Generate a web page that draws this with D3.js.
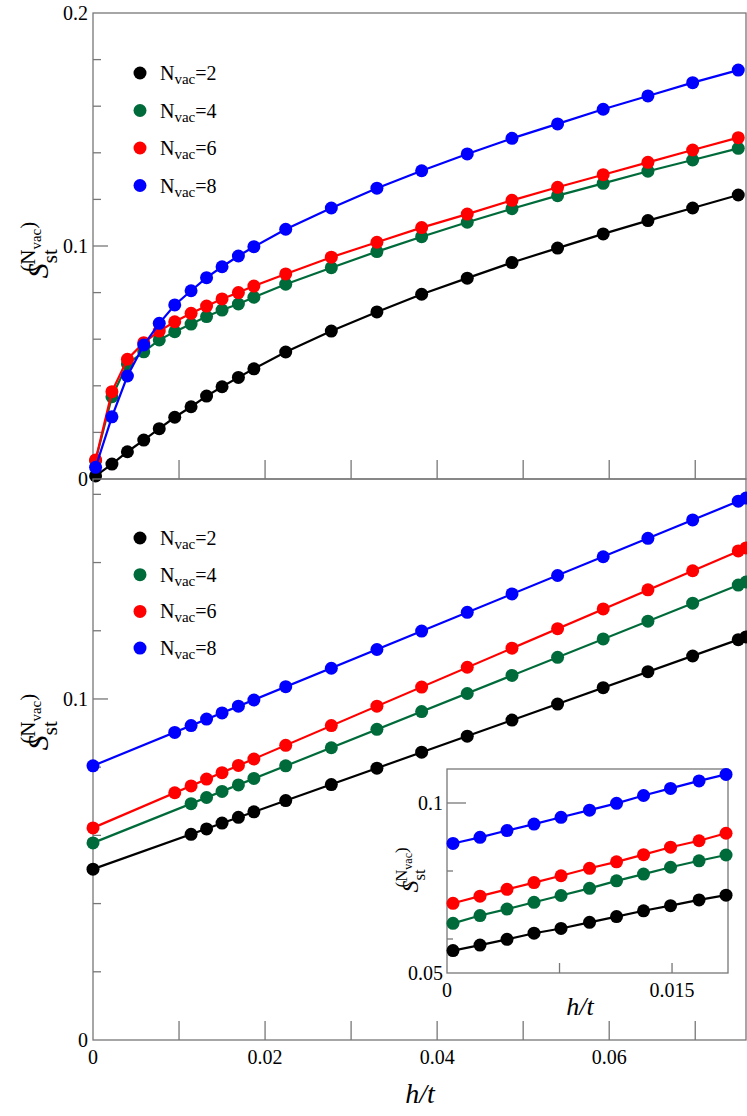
<!DOCTYPE html>
<html>
<head>
<script src="https://d3js.org/d3.v7.min.js"></script>
<style>
body{margin:0;background:#fff}
text{font-family:"Liberation Serif","DejaVu Serif",serif;fill:#000}
</style>
</head>
<body>
<svg id="c" width="747" height="1116"></svg>
<script>
// data
var hTop = [0.0003,0.0022,0.0040,0.0059,0.0077,0.0095,0.0114,0.0132,0.0150,0.0169,0.0187,0.0224,0.0277,0.0330,0.0382,0.0435,0.0487,0.0540,0.0593,0.0645,0.0697,0.0750];
var top2 = [0.0013,0.0064,0.0117,0.0167,0.0216,0.0265,0.0310,0.0356,0.0396,0.0436,0.0473,0.0545,0.0635,0.0717,0.0793,0.0862,0.0929,0.0991,0.1052,0.1109,0.1163,0.1219];
var top4 = [0.0079,0.0353,0.0494,0.0546,0.0597,0.0632,0.0665,0.0697,0.0725,0.0751,0.0780,0.0836,0.0907,0.0976,0.1040,0.1102,0.1160,0.1216,0.1269,0.1321,0.1369,0.1419];
var top6 = [0.0082,0.0375,0.0514,0.0585,0.0635,0.0675,0.0711,0.0742,0.0773,0.0800,0.0828,0.0880,0.0952,0.1016,0.1079,0.1137,0.1196,0.1252,0.1306,0.1359,0.1412,0.1465];
var top8 = [0.0050,0.0267,0.0442,0.0575,0.0668,0.0747,0.0808,0.0864,0.0911,0.0957,0.0997,0.1072,0.1163,0.1248,0.1323,0.1395,0.1462,0.1524,0.1587,0.1644,0.1701,0.1755];

// bottom panel: points (from h index 5 or 6) and fitted lines
var hBot = [0.0095,0.0114,0.0132,0.0150,0.0169,0.0187,0.0224,0.0277,0.0330,0.0382,0.0435,0.0487,0.0540,0.0593,0.0645,0.0697,0.0750];
var bot2 = [null,0.0603,0.0619,0.0636,0.0653,0.0669,0.0702,0.0749,0.0797,0.0844,0.0891,0.0938,0.0985,0.1033,0.1080,0.1126,0.1174];
var bot4 = [null,0.0693,0.0711,0.0729,0.0748,0.0767,0.0804,0.0857,0.0911,0.0963,0.1016,0.1069,0.1122,0.1176,0.1228,0.1281,0.1334];
var bot6 = [0.0725,0.0745,0.0765,0.0784,0.0805,0.0824,0.0864,0.0922,0.0979,0.1035,0.1093,0.1149,0.1206,0.1264,0.1320,0.1376,0.1434];
var bot8 = [0.0902,0.0922,0.0941,0.0959,0.0979,0.0997,0.1036,0.1090,0.1145,0.1199,0.1254,0.1308,0.1362,0.1417,0.1471,0.1525,0.1580];
var fitH = [0, 0.0759];
var fit2 = [0.0501,0.1182], fit4 = [0.0578,0.1343], fit6 = [0.0622,0.1443], fit8 = [0.0804,0.1589];

// inset
var hIn = [0.0004,0.0022,0.0040,0.0058,0.0076,0.0095,0.0113,0.0131,0.0149,0.0168,0.0186];
var in2 = [0.0566,0.0582,0.0599,0.0617,0.0631,0.0649,0.0666,0.0683,0.0698,0.0715,0.0729];
var in4 = [0.0646,0.0669,0.0688,0.0708,0.0728,0.0749,0.0771,0.0791,0.0811,0.0830,0.0847];
var in6 = [0.0705,0.0726,0.0746,0.0766,0.0786,0.0808,0.0827,0.0848,0.0870,0.0889,0.0911];
var in8 = [0.0881,0.0899,0.0919,0.0938,0.0958,0.0979,0.0999,0.1022,0.1043,0.1065,0.1084];

var labels = ["2","4","6","8"];
var colors = ["#000000","#006b3a","#ff0000","#0000ff"];
var xTicks = [0.02,0.04,0.06];

var svg = d3.select("#c");
var axisCol = "#777";

function panel(x0,x1,y0,y1,xd,yd){
  var x = d3.scaleLinear().domain(xd).range([x0,x1]);
  var y = d3.scaleLinear().domain(yd).range([y1,y0]);
  svg.append("rect").attr("x",x0).attr("y",y0).attr("width",x1-x0).attr("height",y1-y0)
    .attr("fill","none").attr("stroke",axisCol).attr("stroke-width",1.3);
  return {x:x,y:y};
}
function series(p,hs,vs,col,line){
  var pts = hs.map(function(h,i){return [h,vs[i]];}).filter(function(d){return d[1]!=null;});
  if(line!==false) svg.append("path").attr("d",d3.line().x(function(d){return p.x(d[0]);}).y(function(d){return p.y(d[1]);})(pts))
    .attr("fill","none").attr("stroke",col).attr("stroke-width",2.2);
  svg.selectAll(null).data(pts).enter().append("circle")
    .attr("cx",function(d){return p.x(d[0]);}).attr("cy",function(d){return p.y(d[1]);})
    .attr("r",6.5).attr("fill",col);
}
function tick(x1,y1,x2,y2){svg.append("line").attr("x1",x1).attr("y1",y1).attr("x2",x2).attr("y2",y2).attr("stroke",axisCol).attr("stroke-width",1.3);}
function ylab(cx,cy,size){
  var t = svg.append("text").attr("transform","translate("+cx+","+cy+") rotate(-90)").attr("text-anchor","middle").style("font-size",size+"px");
  t.append("tspan").attr("font-style","italic").text("S");
  t.append("tspan").attr("dy",size*0.3).style("font-size",(size*0.7)+"px").text("st");
  t.append("tspan").attr("dx",-size*0.75).attr("dy",-size*0.75).style("font-size",(size*0.7)+"px").text("(N");
  t.append("tspan").attr("dy",size*0.2).style("font-size",(size*0.5)+"px").text("vac");
  t.append("tspan").attr("dy",-size*0.2).style("font-size",(size*0.7)+"px").text(")");
}
function legend(lx,ly,dy){
  labels.forEach(function(l,i){
    var yy = ly+i*dy;
    svg.append("circle").attr("cx",lx).attr("cy",yy).attr("r",6.5).attr("fill",colors[i]);
    var t = svg.append("text").attr("x",lx+20).attr("y",yy+7).style("font-size","20px");
    t.append("tspan").text("N");
    t.append("tspan").attr("dy",4).style("font-size","15px").text("vac");
    t.append("tspan").attr("dy",-4).text("="+l);
  });
}

// top panel
var L=93,R=746;
var pt = panel(L,R,13,479,[0,0.0759],[0,0.2]);
d3.range(0.01,0.0759,0.01).forEach(function(v){tick(pt.x(v),479,pt.x(v),460);});
d3.range(0.02,0.2,0.02).forEach(function(v,i){var big=Math.abs(v-0.1)<1e-6; tick(L,pt.y(v),L+(big?15:8),pt.y(v));});
[[0,"0"],[0.1,"0.1"],[0.2,"0.2"]].forEach(function(d){
  svg.append("text").attr("x",L-5).attr("y",pt.y(d[0])+7).attr("text-anchor","end").style("font-size","20px").text(d[1]);});
[top2,top4,top6,top8].forEach(function(s,i){series(pt,hTop,s,colors[i]);});
legend(140,73,37.5);
ylab(48,250,30);

// bottom panel
var pb = panel(L,R,479,1040,[0,0.0759],[0,0.1645]);
d3.range(0.01,0.0759,0.01).forEach(function(v){tick(pb.x(v),1040,pb.x(v),1021);});
d3.range(0.02,0.1645,0.02).forEach(function(v){var big=Math.abs(v-0.1)<1e-6; tick(L,pb.y(v),L+(big?15:8),pb.y(v));});
[[0,"0"],[0.1,"0.1"]].forEach(function(d){
  svg.append("text").attr("x",L-5).attr("y",pb.y(d[0])+7).attr("text-anchor","end").style("font-size","20px").text(d[1]);});
svg.append("text").attr("x",pb.x(0)).attr("y",1064).attr("text-anchor","middle").style("font-size","20px").text("0");
xTicks.forEach(function(v){svg.append("text").attr("x",pb.x(v)).attr("y",1064).attr("text-anchor","middle").style("font-size","20px").text(v);});
[fit2,fit4,fit6,fit8].forEach(function(f,i){series(pb,fitH,f,colors[i],true);});
svg.selectAll("circle").filter(function(){return false;});
// remove circles from fit endpoints by drawing points separately
[bot2,bot4,bot6,bot8].forEach(function(s,i){series(pb,hBot,s,colors[i],false);});
legend(140,538,36.7);
ylab(48,722,30);
svg.append("text").attr("x",420).attr("y",1103).attr("text-anchor","middle").style("font-size","28px").attr("font-style","italic").text("h/t");

// inset
svg.append("rect").attr("x",447).attr("y",769).attr("width",281).attr("height",204).attr("fill","#fff");
var pi = panel(447,728,769,973,[0,0.01873],[0.05,0.11]);
[0.0075,0.015].forEach(function(v){tick(pi.x(v),973,pi.x(v),963);});
[0.06,0.08].forEach(function(v){tick(447,pi.y(v),453,pi.y(v));});
tick(447,pi.y(0.1),466,pi.y(0.1));
[[0.05,"0.05"],[0.1,"0.1"]].forEach(function(d){
  svg.append("text").attr("x",443).attr("y",pi.y(d[0])+7).attr("text-anchor","end").style("font-size","20px").text(d[1]);});
svg.append("text").attr("x",447).attr("y",997).attr("text-anchor","middle").style("font-size","20px").text("0");
svg.append("text").attr("x",pi.x(0.015)).attr("y",997).attr("text-anchor","middle").style("font-size","20px").text("0.015");
[in2,in4,in6,in8].forEach(function(s,i){series(pi,hIn,s,colors[i]);});
ylab(418,870,24);
svg.append("text").attr("x",580).attr("y",1015).attr("text-anchor","middle").style("font-size","26px").attr("font-style","italic").text("h/t");
</script>
</body>
</html>
